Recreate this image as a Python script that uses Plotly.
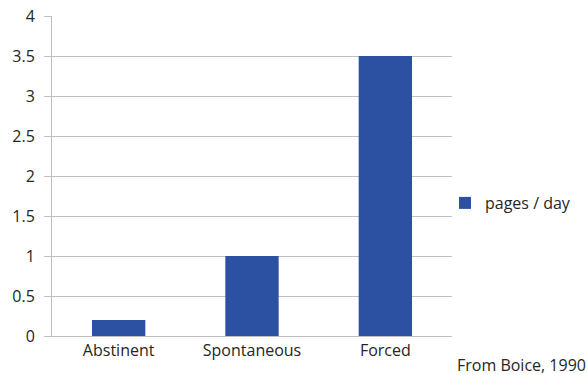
import plotly.graph_objects as go

categories = ["Abstinent", "Spontaneous", "Forced"]
pages_per_day = [0.2, 1.0, 3.5]
series_name = "pages / day"
y_ticks = [0, 0.5, 1, 1.5, 2, 2.5, 3, 3.5, 4]
y_tick_labels = ["0", "0.5", "1", "1.5", "2", "2.5", "3", "3.5", "4"]
source_note = "From Boice, 1990"

fig = go.Figure()
fig.add_trace(go.Bar(
    x=categories, y=pages_per_day, name=series_name,
    marker=dict(color="#2C50A2", line=dict(width=0)),
    width=0.4, showlegend=True,
))

font_family = "Open Sans, sans-serif"
W, H = 588, 375
fig.update_layout(
    width=W, height=H,
    margin=dict(l=52, r=136, t=16, b=39, autoexpand=False),
    plot_bgcolor="white", paper_bgcolor="white",
    font=dict(family=font_family, size=16, color="#262626"),
    showlegend=True,
    legend=dict(x=445 / W, y=1 - 203 / H, xref="container", yref="container",
                xanchor="left", yanchor="middle",
                font=dict(size=16), itemwidth=30, bgcolor="rgba(0,0,0,0)"),
    xaxis=dict(showgrid=False, showline=True, linecolor="#BFBFBF", linewidth=1,
               ticks="", tickfont=dict(size=16), fixedrange=True, automargin=False),
    yaxis=dict(range=[0, 4], tickvals=y_ticks, ticktext=y_tick_labels,
               showgrid=True, gridcolor="#BFBFBF", gridwidth=1,
               showline=True, linecolor="#BFBFBF", linewidth=1,
               ticks="outside", ticklen=7, tickcolor="#BFBFBF",
               ticklabelstandoff=6, automargin=False,
               tickfont=dict(size=16), zeroline=False),
    annotations=[dict(text=source_note, x=(588 - 52) / 400, xref="paper",
                      y=-0.09, yref="paper",
                      xanchor="right", yanchor="middle", showarrow=False,
                      font=dict(size=16))],
)
fig.write_html("out.html")
